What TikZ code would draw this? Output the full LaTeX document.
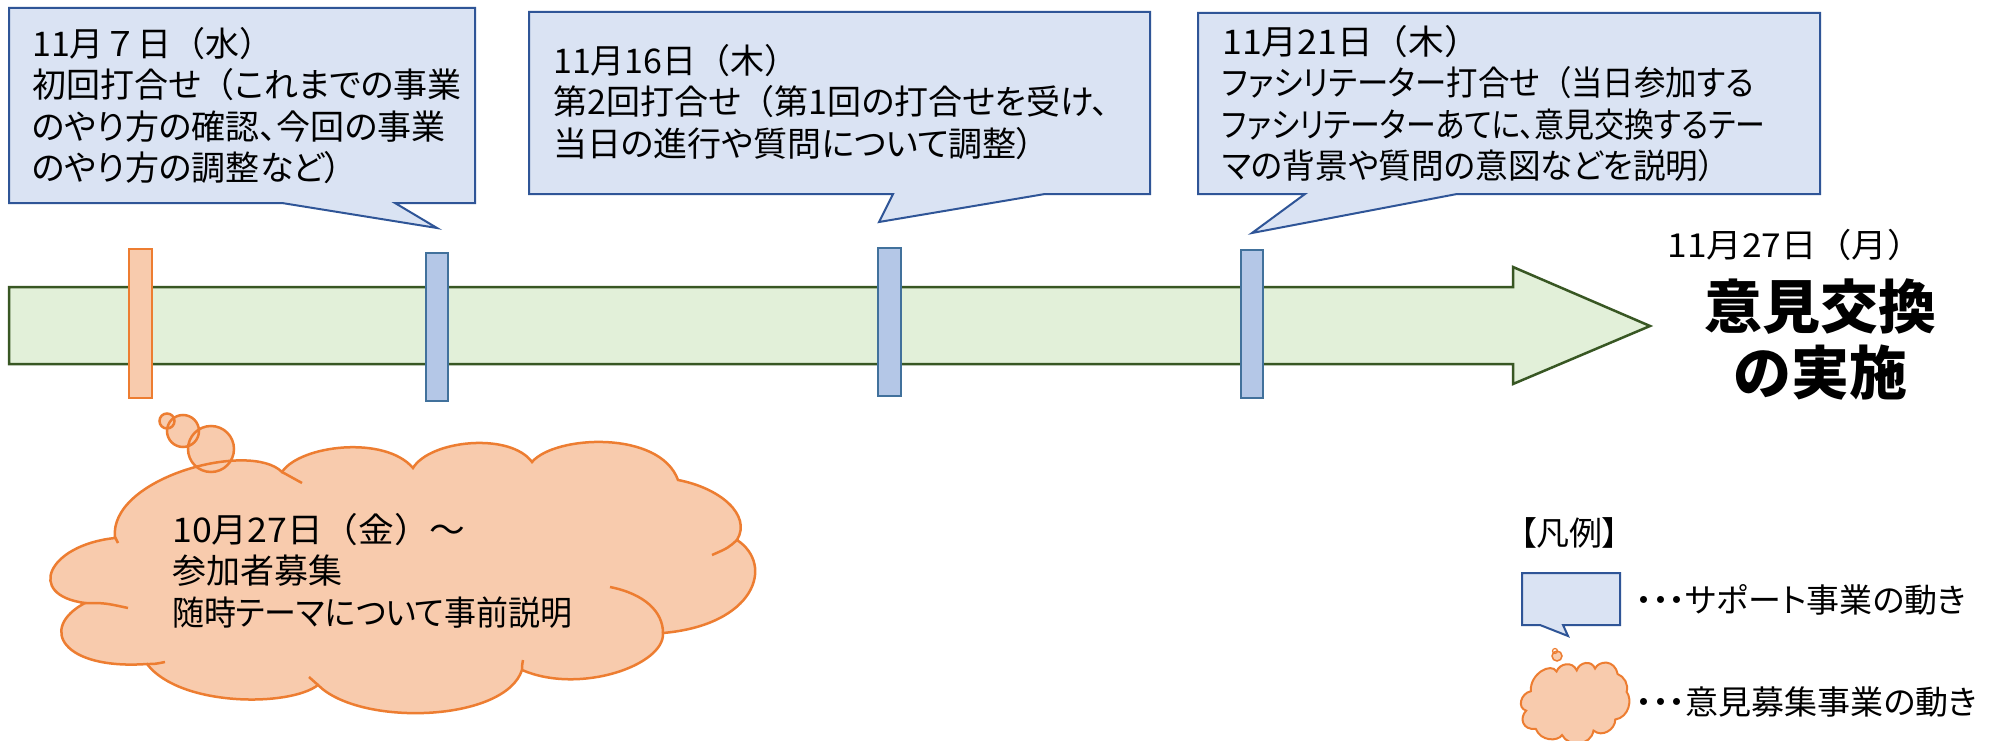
\documentclass[tikz,border=0pt]{standalone}
\usepackage{fontspec}
\setmainfont{Noto Sans CJK JP}
\newfontfamily\jpp[RawFeature=+palt]{Noto Sans CJK JP}
\newcommand{\fp}{{\normalfont （}}
\definecolor{cfill}{HTML}{DAE3F3}
\definecolor{cline}{HTML}{2F5597}
\definecolor{bfill}{HTML}{B4C7E7}
\definecolor{bline}{HTML}{41719C}
\definecolor{gfill}{HTML}{E2F0D9}
\definecolor{gline}{HTML}{385723}
\definecolor{ofill}{HTML}{F8CBAD}
\definecolor{oline}{HTML}{ED7D31}
\tikzset{
  callout/.style={fill=cfill, draw=cline, line width=2pt, line join=miter},
  bar/.style={fill=bfill, draw=bline, line width=2pt},
  obar/.style={fill=ofill, draw=oline, line width=2pt},
  arrowshape/.style={fill=gfill, draw=gline, line width=2.5pt},
  cloudline/.style={draw=oline, line width=2.5pt},
  txt/.style={inner sep=0pt, align=left, anchor=north west, font=\jpp\fontsize{34}{41.5}\selectfont},
  mycloud/.style={insert path={
    (115,538) .. controls (108,478) and (250,440) .. (282,472)
    .. controls (300,445) and (385,435) .. (413,468)
    .. controls (430,440) and (510,432) .. (532,462)
    .. controls (555,435) and (660,430) .. (678,480)
    .. controls (720,488) and (752,515) .. (737,540)
    .. controls (775,565) and (755,625) .. (663,633)
    .. controls (665,665) and (580,695) .. (522,670)
    .. controls (505,722) and (360,727) .. (318,685)
    .. controls (290,707) and (180,707) .. (147,664)
    .. controls (62,670) and (38,628) .. (85,603)
    .. controls (25,595) and (48,545) .. (115,538) -- cycle}},
  cloudcusps/.style={insert path={
    (282,472) .. controls (292,478) .. (302,483)
    (737,540) .. controls (728,548) .. (712,555)
    (663,633) .. controls (663,612) and (645,594) .. (610,587)
    (522,670) .. controls (522,666) .. (523,660)
    (318,685) .. controls (314,681) .. (309,677)
    (147,664) .. controls (155,664) .. (165,662)
    (85,603) .. controls (105,603) .. (128,608)
    (115,537) -- (118,543)}}
}
\begin{document}
\begin{tikzpicture}[x=1pt,y=-1pt]
\fill[white] (0,0) rectangle (2011,741);
\useasboundingbox (0,0) rectangle (2011,741);

% timeline arrow
\draw[arrowshape] (9,287) -- (1513,287) -- (1513,267) -- (1650,326) -- (1513,384) -- (1513,364) -- (9,364) -- cycle;

% bars
\draw[obar] (129,249) rectangle (152,398);
\draw[bar] (426,253) rectangle (448,401);
\draw[bar] (878,248) rectangle (901,396);
\draw[bar] (1241,250) rectangle (1263,398);

% callouts
\draw[callout] (9,8) -- (475,8) -- (475,203) -- (395,203) -- (437,228) -- (282,203) -- (9,203) -- cycle;
\draw[callout] (529,12) -- (1150,12) -- (1150,194) -- (1045,194) -- (879,222) -- (893,194) -- (529,194) -- cycle;
\draw[callout] (1198,13) -- (1820,13) -- (1820,194) -- (1457,194) -- (1252,233) -- (1305,194) -- (1198,194) -- cycle;

\node[txt] (t1) at (32,27) {{\normalfont 11月７日（水）}\\初回打合せ\fp これまでの事業\\のやり方の確認、今回の事業\\のやり方の調整など）};
\node[txt] (t2) at (553,44) {{\normalfont 11月16日（木）}\\第2回打合せ\fp 第1回の打合せを受け、\\当日の進行や質問について調整）};
\node[txt] (t3) at (1222,25) {{\normalfont\scalebox{1.05}[1]{11月21日（木）}}\\\scalebox{0.925}[1]{ファシリテーター打合せ\fp 当日参加する}\\\scalebox{0.88}[1]{ファシリテーターあてに、意見交換するテー}\\\scalebox{0.96}[1]{マの背景や質問の意図などを説明）}};

% cloud
\fill[ofill] (167,421) circle (7.5) (183,431) circle (16) (211,449) circle (23);
\path[fill=ofill, cloudline, mycloud];
\draw[cloudline] (167,421) circle (7.5) (183,431) circle (16) (211,449) circle (23);
\path[cloudline, cloudcusps];
\node[txt] (t4) at (172,513) {{\normalfont\scalebox{1.05}[1]{10月27日（金）～}}\\参加者募集\\\scalebox{0.94}[1]{随時テーマについて事前説明}};

% goal
\node[inner sep=0pt, font=\fontsize{33}{40}\selectfont] (d5) at (1795,245) {\scalebox{1.07}[1]{11月27日（月）}};
\node[inner sep=0pt, align=center, font=\bfseries\fontsize{58}{66}\selectfont] (goal) at (1820,339) {意見交換\\の実施};

% legend
\node[inner sep=0pt, anchor=west, font=\jpp\fontsize{33}{38}\selectfont] (lg) at (1520,533) {【凡例】};
\draw[callout] (1522,573) -- (1620,573) -- (1620,625) -- (1563,625) -- (1568,636) -- (1540,625) -- (1522,625) -- cycle;
\node[inner sep=0pt, anchor=west, font=\jpp\fontsize{33}{38}\selectfont] (lg1) at (1636,600) {・・・サポート事業の動き};
\begin{scope}[shift={(1513.1,530.9)}, xscale=0.154, yscale=0.298]
  \path[fill=ofill, draw=oline, line width=2pt, mycloud];
\end{scope}
\draw[fill=ofill, draw=oline, line width=1.5pt] (1557,656) circle (5);
\draw[draw=oline, line width=1.2pt] (1555,651) circle (2.5);
\node[inner sep=0pt, anchor=west, font=\jpp\fontsize{33}{38}\selectfont] (lg2) at (1636,702) {・・・意見募集事業の動き};
\end{tikzpicture}
\end{document}
